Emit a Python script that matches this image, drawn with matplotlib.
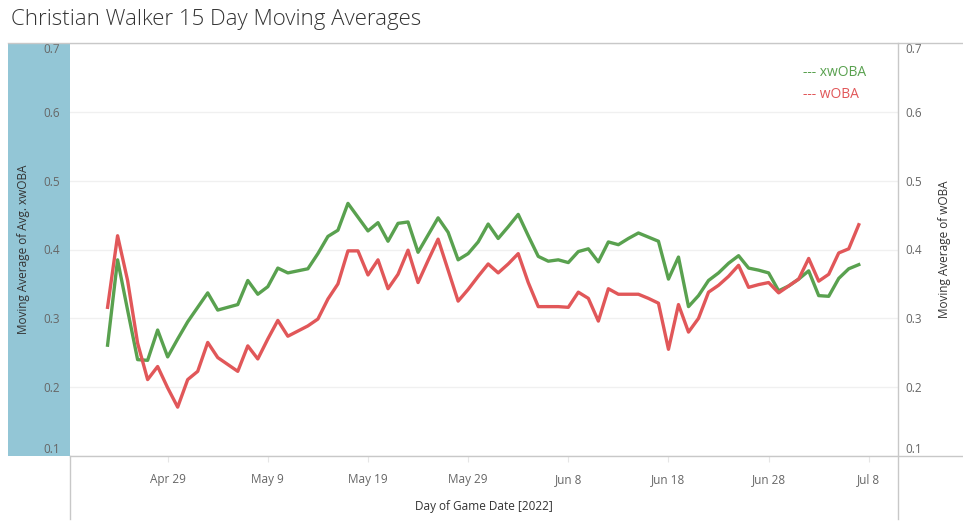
import matplotlib
matplotlib.use('Agg')
import matplotlib.pyplot as plt
import matplotlib.dates as mdates
from matplotlib.patches import Rectangle
from matplotlib.lines import Line2D
import pandas as pd

# Game dates (2022) and the two 15 day moving averages
game_dates = [
    '04-23', '04-24', '04-25', '04-26', '04-27', '04-28', '04-29', '04-30',
    '05-01', '05-02', '05-03', '05-04', '05-06', '05-07', '05-08', '05-09',
    '05-10', '05-11', '05-13', '05-14', '05-15', '05-16', '05-17', '05-18',
    '05-19', '05-20', '05-21', '05-22', '05-23', '05-24', '05-25', '05-26',
    '05-27', '05-28', '05-29', '05-30', '05-31', '06-01', '06-02', '06-03',
    '06-04', '06-05', '06-06', '06-07', '06-08', '06-09', '06-10', '06-11',
    '06-12', '06-13', '06-14', '06-15', '06-16', '06-17', '06-18', '06-19',
    '06-20', '06-21', '06-22', '06-23', '06-24', '06-25', '06-26', '06-27',
    '06-28', '06-29', '06-30', '07-01', '07-02', '07-03', '07-04', '07-05',
    '07-06', '07-07',
]
xwoba = [
    0.261, 0.385, 0.312, 0.240, 0.239, 0.283, 0.244, 0.270,
    0.295, 0.316, 0.337, 0.312, 0.320, 0.355, 0.335, 0.346,
    0.373, 0.366, 0.372, 0.394, 0.419, 0.428, 0.467, 0.447,
    0.427, 0.439, 0.412, 0.438, 0.440, 0.396, 0.421, 0.446,
    0.425, 0.385, 0.394, 0.411, 0.437, 0.416, 0.433, 0.451,
    0.420, 0.390, 0.383, 0.385, 0.381, 0.397, 0.401, 0.382,
    0.411, 0.407, 0.416, 0.424, 0.418, 0.412, 0.357, 0.389,
    0.317, 0.333, 0.355, 0.366, 0.380, 0.391, 0.373, 0.370,
    0.366, 0.340, 0.347, 0.357, 0.369, 0.333, 0.332, 0.358,
    0.372, 0.378,
]
woba = [
    0.316, 0.420, 0.355, 0.264, 0.211, 0.230, 0.199, 0.171,
    0.211, 0.223, 0.265, 0.243, 0.223, 0.260, 0.241, 0.270,
    0.297, 0.274, 0.289, 0.299, 0.328, 0.350, 0.398, 0.398,
    0.363, 0.385, 0.343, 0.364, 0.399, 0.352, 0.384, 0.415,
    0.370, 0.325, 0.342, 0.361, 0.379, 0.366, 0.379, 0.394,
    0.352, 0.317, 0.317, 0.317, 0.316, 0.338, 0.329, 0.296,
    0.343, 0.335, 0.335, 0.335, 0.329, 0.322, 0.255, 0.320,
    0.280, 0.300, 0.338, 0.348, 0.361, 0.377, 0.345, 0.349,
    0.352, 0.337, 0.347, 0.357, 0.387, 0.354, 0.364, 0.395,
    0.401, 0.436,
]
y_ticks = [0.1, 0.2, 0.3, 0.4, 0.5, 0.6, 0.7]

GREEN = '#59a14f'
RED = '#e15759'
BAND = '#93c6d6'
TICK_GREY = '#666666'
LINE_GREY = '#c8c8c8'
FONT = 'Open Sans'

dates = pd.to_datetime(['2022-' + d for d in game_dates])

fig = plt.figure(figsize=(9.63, 5.28), dpi=100)
W, H = 963.0, 528.0
L, R, T, B = 70 / W, 898 / W, 1 - 43 / H, 1 - 456 / H

# Blue band behind the left axis labels
fig.patches.append(Rectangle((8 / W, B), L - 8 / W, T - B, transform=fig.transFigure,
                             facecolor=BAND, edgecolor='none', zorder=-5))

ax = fig.add_axes([L, B, R - L, T - B])
ax.patch.set_alpha(0)
ax2 = ax.twinx()

ax.plot(dates, xwoba, color=GREEN, lw=2.4, solid_joinstyle='round', zorder=3)
ax2.plot(dates, woba, color=RED, lw=2.4, solid_joinstyle='round', zorder=3)

for a in (ax, ax2):
    a.set_ylim(0.1, 0.7)
    a.set_yticks(y_ticks)
    a.set_xlim(pd.Timestamp('2022-04-19 06:00'), pd.Timestamp('2022-07-10 22:00'))
    for s in a.spines.values():
        s.set_visible(False)

ax.set_yticklabels(['%.1f' % v for v in y_ticks])
ax2.set_yticklabels(['%.1f' % v for v in y_ticks])
ax.tick_params(axis='y', length=0, pad=7, labelsize=8.5, labelcolor=TICK_GREY)
ax2.tick_params(axis='y', length=0, pad=5, labelsize=8.5, labelcolor=TICK_GREY)
for a in (ax, ax2):
    labs = a.get_yticklabels()
    labs[0].set_va('bottom')
    labs[-1].set_va('top')
    for lab in labs:
        lab.set_fontfamily(FONT)

ax.yaxis.grid(True, color='#f0f0f0', lw=1)
ax.set_axisbelow(True)

# X axis
ax.set_xticks(pd.date_range('2022-04-29', periods=8, freq='10D'))
ax.xaxis.set_major_formatter(mdates.DateFormatter('%b %-d'))
ax.tick_params(axis='x', length=4, color='#e6e6e6', pad=8, labelsize=8.5,
               labelcolor=TICK_GREY)
for lab in ax.get_xticklabels():
    lab.set_fontfamily(FONT)
ax.set_xlabel('Day of Game Date [2022]', fontsize=8.5, color='#333333',
              family=FONT, labelpad=10)

ax.set_ylabel('Moving Average of Avg. xwOBA', fontsize=8.5, color='#333333', family=FONT)
ax.yaxis.set_label_coords(-40 / 828, 0.5)
ax2.set_ylabel('Moving Average of wOBA', fontsize=8.5, color='#333333', family=FONT)
ax2.yaxis.set_label_coords(1 + 40 / 828, 0.5)

# Frame lines
def fline(x0, y0, x1, y1):
    fig.add_artist(Line2D([x0 / W, x1 / W], [1 - y0 / H, 1 - y1 / H],
                          transform=fig.transFigure, color=LINE_GREY, lw=1))

fline(8, 43, 963, 43)
fline(70, 456, 963, 456)
fline(898, 43, 898, 519)
fline(70, 456, 70, 519)

# Legend
fig.text(803 / W, 1 - 73 / H, '--- xwOBA', color=GREEN, fontsize=10, family=FONT, va='center')
fig.text(803 / W, 1 - 94 / H, '--- wOBA', color=RED, fontsize=10, family=FONT, va='center')

fig.text(11 / W, 1 - 20 / H, 'Christian Walker 15 Day Moving Averages', fontsize=16,
         color='#333333', family=FONT, weight='light', va='center')

fig.savefig('out.png', dpi=100)
